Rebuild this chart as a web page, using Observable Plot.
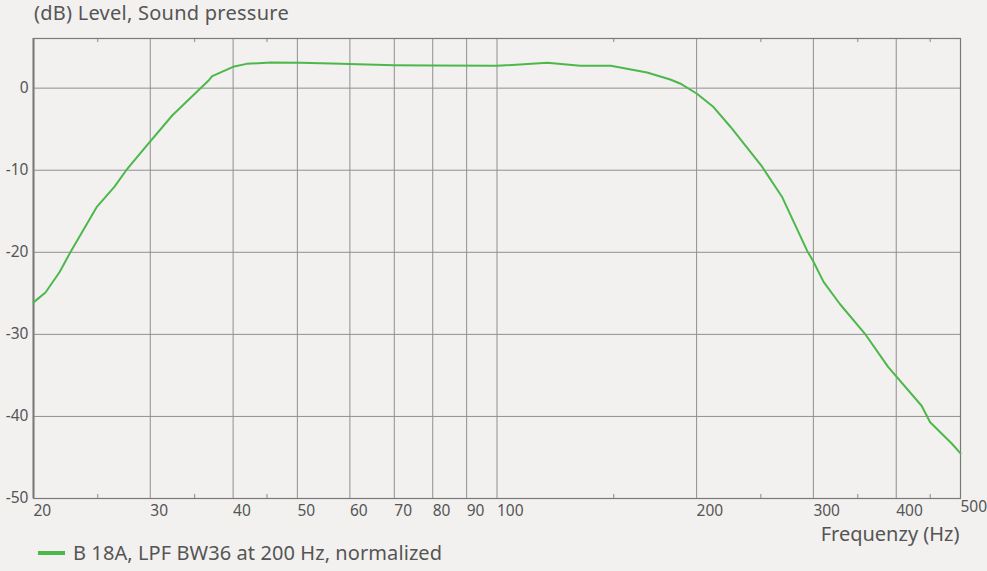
<!DOCTYPE html>
<html>
<head>
<meta charset="utf-8">
<script src="https://cdn.jsdelivr.net/npm/d3@7"></script>
<script src="https://cdn.jsdelivr.net/npm/@observablehq/plot@0.6"></script>
<style>
  html, body { margin: 0; padding: 0; background: #f2f1ef; }
  #wrap { position: relative; width: 987px; height: 571px; overflow: hidden; font-family: "Noto Sans", sans-serif; color: #555; }
  #title { position: absolute; left: 34px; top: 3px; font-size: 20px; line-height: 20px; letter-spacing: 0.25px; color: #555; white-space: nowrap; }
  #chart { position: absolute; left: 0; top: 0; }
  #legend { position: absolute; left: 38px; top: 543px; font-size: 20px; line-height: 20px; letter-spacing: 0.08px; color: #555; white-space: nowrap; }
  #legend .sw { position: absolute; left: 0; top: 8px; width: 27px; height: 4px; background: #4db84a; }
  #legend .tx { position: absolute; left: 35px; top: 0; }
</style>
</head>
<body>
<div id="wrap">
  <div id="chart"></div>
  <div id="title">(dB) Level, Sound pressure</div>
  <div id="legend"><span class="sw"></span><span class="tx">B 18A, LPF BW36 at 200 Hz, normalized</span></div>
</div>
<script>
// Frequency response (Hz, dB)
const freq = [20, 20.85, 21.9, 22.8, 24.9, 26.5, 27.6, 29.2, 32.4, 36.8, 37.2, 40, 41.9, 45.6, 50.5, 56.3, 69.9, 80, 100, 119.1, 133.5, 148.5, 168.4, 182.5, 188.8, 200, 212.1, 224.9, 250.2, 269.3, 293.5, 299.4, 310.8, 328.9, 358.6, 389.1, 436.8, 450, 485, 500];
const level = [-26.1, -24.9, -22.4, -19.8, -14.5, -12.0, -10.0, -7.6, -3.3, 1.0, 1.46, 2.6, 2.96, 3.13, 3.1, 3.0, 2.8, 2.75, 2.72, 3.09, 2.72, 2.72, 1.91, 1.06, 0.57, -0.65, -2.3, -4.7, -9.4, -13.3, -19.8, -21.0, -23.6, -26.3, -29.9, -34.0, -38.7, -40.7, -43.3, -44.5];

const xTickValues = [20, 30, 40, 50, 60, 70, 80, 90, 100, 200, 300, 400];
const xLastTick = [500];
const xGrid = [30, 40, 50, 60, 70, 80, 90, 100, 200, 300, 400];
const xMinorTop = [25, 35, 45, 150, 250, 350, 450];
const xMinorBottom = [25, 35, 45, 150, 250, 350, 450];
const yTickValues = [0, -10, -20, -30, -40, -50];
const yGrid = [0, -10, -20, -30, -40];

const data = freq.map((f, i) => ({f, db: level[i]}));

const font = "'Noto Sans', sans-serif";

const plot = Plot.plot({
  width: 987,
  height: 571,
  marginTop: 38,
  marginBottom: 73,
  marginLeft: 33,
  marginRight: 27,
  style: { background: "transparent", fontFamily: font, color: "#555" },
  x: { type: "log", domain: [20, 500] },
  y: { type: "linear", domain: [-50, 6.05] },
  marks: [
    Plot.ruleX(xGrid, { stroke: "#8f8f8f", strokeWidth: 1 }),
    Plot.ruleY(yGrid, { stroke: "#8f8f8f", strokeWidth: 1 }),
    Plot.frame({ stroke: "#7a7a7a", strokeWidth: 1.2 }),
    Plot.ruleX([20], { stroke: "#7a7a7a", strokeWidth: 2 }),
    Plot.axisX({ ticks: xMinorTop, tickSize: -3, anchor: "top", tickFormat: () => "", stroke: "#888", label: null }),
    Plot.axisX({ ticks: xMinorBottom, tickSize: -4, anchor: "bottom", tickFormat: () => "", stroke: "#888", label: null }),
    Plot.text(xTickValues, { x: d => d, frameAnchor: "bottom", text: d => String(d), textAnchor: "start", lineAnchor: "top", dy: 6, fontSize: 15.5, fill: "#555" }),
    Plot.text(xLastTick, { x: d => d, frameAnchor: "bottom", text: d => String(d), textAnchor: "start", lineAnchor: "top", dy: 2, fontSize: 15.5, fill: "#555" }),
    Plot.axisY({ ticks: yTickValues, tickSize: 0, tickPadding: 5, fontSize: 15.5, fill: "#555", label: null, tickFormat: d => String(d) }),
    Plot.line(data, { x: "f", y: "db", stroke: "#4db84a", strokeWidth: 2, curve: "linear" }),
    Plot.text(["Frequenzy (Hz)"], { frameAnchor: "bottom-right", text: d => d, textAnchor: "end", dy: 42, dx: -1, fontSize: 20, fill: "#555", style: "letter-spacing:0.5px" })
  ]
});
document.getElementById("chart").appendChild(plot);
</script>
</body>
</html>
